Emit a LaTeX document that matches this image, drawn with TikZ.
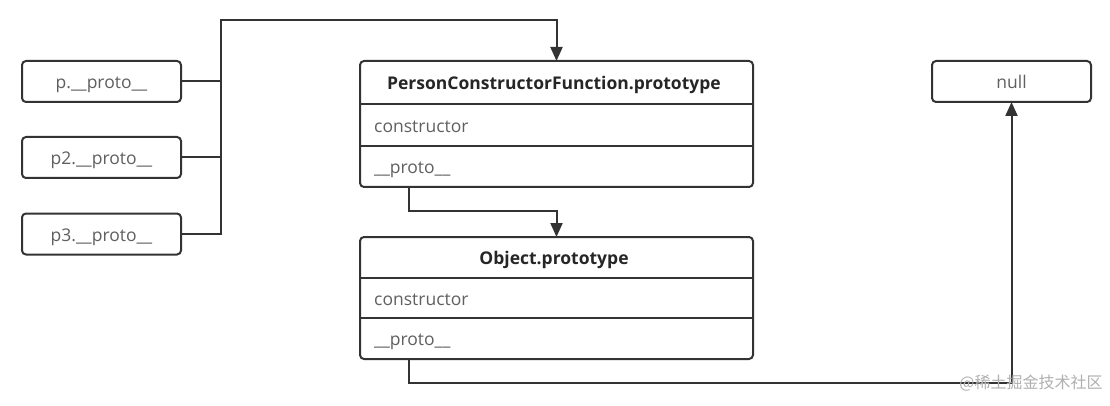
\documentclass[tikz,border=0pt]{standalone}
\usepackage{fontspec}
\setmainfont{Open Sans}
\newfontfamily\cjk{Noto Sans CJK SC}
\usetikzlibrary{arrows.meta}
\definecolor{ln}{HTML}{333333}
\definecolor{tx}{HTML}{606060}
\definecolor{wm}{HTML}{B0B0B0}
\begin{document}
\begin{tikzpicture}[x=1pt,y=-1pt,
  box/.style={draw=ln, line width=2pt, rounded corners=4pt, inner sep=0pt, outer sep=0pt},
  lbl/.style={text=tx, font=\fontsize{17.5}{20}\selectfont, inner sep=0pt},
  ttl/.style={text=black!85, font=\bfseries\fontsize{17.5}{20}\selectfont, inner sep=0pt},
  ptr/.style={box, lbl, minimum width=159pt, minimum height=41pt, text depth=0pt, text height=15pt},
  conn/.style={draw=ln, line width=2pt},
  arr/.style={conn, -{Triangle[length=14pt,width=12pt]}}]
\useasboundingbox[fill=white] (0,0) rectangle (1110,406);

% left pointer boxes
\node[ptr] (p1) at (101.5,81.5) {p.\_\_proto\_\_};
\node[ptr] (p2) at (101.5,157.5) {p2.\_\_proto\_\_};
\node[ptr] (p3) at (101.5,234) {p3.\_\_proto\_\_};
\node[ptr] (null) at (1011.5,81.5) {null};

% PersonConstructorFunction.prototype
\node[box, minimum width=393pt, minimum height=126pt] (pcf) at (556.5,124) {};
\node[ttl] (pcft) at (554,85) {PersonConstructorFunction.prototype};
\node[lbl, anchor=west] (pcfc) at (374,127) {constructor};
\node[lbl, anchor=west] (pcfp) at (374,169.5) {\_\_proto\_\_};
\draw[conn] (pcf.west |- 0,104) -- (pcf.east |- 0,104);
\draw[conn] (pcf.west |- 0,146) -- (pcf.east |- 0,146);

% Object.prototype
\node[box, minimum width=393pt, minimum height=122pt] (obj) at (556.5,298) {};
\node[ttl] (objt) at (554,260) {Object.prototype};
\node[lbl, anchor=west] (objc) at (374,300) {constructor};
\node[lbl, anchor=west] (objp) at (374,342) {\_\_proto\_\_};
\draw[conn] (obj.west |- 0,278) -- (obj.east |- 0,278);
\draw[conn] (obj.west |- 0,318) -- (obj.east |- 0,318);

% connectors
\coordinate (bus) at (221,20);
\draw[conn] (p1.east) -- (p1.east -| bus);
\draw[conn] (p2.east) -- (p2.east -| bus);
\draw[arr] (p3.east) -| (bus) -| (pcf.north);
\draw[arr] ([xshift=49pt]pcf.south west) -- ++(0,24) -| (obj.north);
\draw[arr] ([xshift=49pt]obj.south west) -- ++(0,24) -| (null.south);

% watermark
\node[text=wm, font=\cjk\fontsize{16}{18}\selectfont, inner sep=0pt] (wmk) at (1031,383) {@稀土掘金技术社区};
\end{tikzpicture}
\end{document}
